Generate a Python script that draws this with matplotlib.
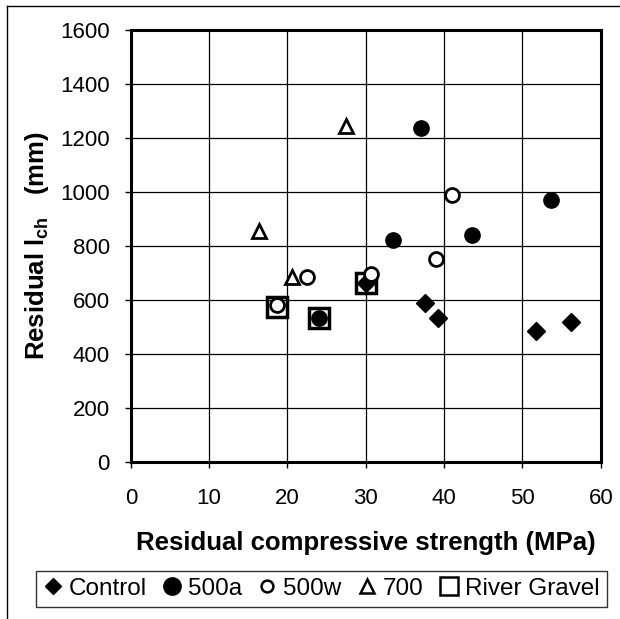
import matplotlib
matplotlib.use("Agg")
import matplotlib.pyplot as plt
from matplotlib.lines import Line2D

plt.rcParams['font.family'] = ['Liberation Sans', 'DejaVu Sans']
plt.rcParams['mathtext.fontset'] = 'custom'
plt.rcParams['mathtext.rm'] = 'Liberation Sans'
plt.rcParams['mathtext.bf'] = 'Liberation Sans:bold'

# data
control_x = [30.0, 37.5, 39.2, 51.7, 56.2]
control_y = [662, 588, 532, 483, 516]

a500_x = [37.1, 33.5, 43.6, 53.7, 24.0]
a500_y = [1236, 822, 840, 968, 532]

w500_x = [41.0, 39.0, 22.5, 30.7, 18.6]
w500_y = [989, 751, 684, 696, 581]

t700_x = [27.5, 16.4, 20.6]
t700_y = [1242, 853, 686]

gravel_x = [18.6, 24.0, 30.0]
gravel_y = [575, 532, 662]

fig = plt.figure(figsize=(6.2, 6.19), dpi=100)
ax = fig.add_axes([0.211, 0.254, 0.758, 0.698])

ax.plot(gravel_x, gravel_y, linestyle='none', marker='s', ms=15, mfc='none',
        mec='black', mew=2.5, zorder=3)
ax.plot(control_x, control_y, linestyle='none', marker='D', ms=9, color='black', zorder=4)
ax.plot(a500_x, a500_y, linestyle='none', marker='o', ms=11, color='black', zorder=4)
ax.plot(w500_x, w500_y, linestyle='none', marker='o', ms=10, mfc='white',
        mec='black', mew=2, zorder=4)
ax.plot(t700_x, t700_y, linestyle='none', marker='^', ms=10, mfc='white',
        mec='black', mew=2, zorder=4)

ax.set_xlim(0, 60)
ax.set_ylim(0, 1600)
ax.set_xticks(range(0, 61, 10))
ax.set_yticks(range(0, 1601, 200))
ax.grid(True, color='black', linewidth=0.9)
ax.set_axisbelow(True)
for sp in ax.spines.values():
    sp.set_linewidth(2.2)
ax.tick_params(direction='out', length=4, width=1, labelsize=16)
ax.tick_params(axis='x', pad=15)
ax.tick_params(axis='y', pad=11)

ax.set_xlabel('Residual compressive strength (MPa)', fontsize=18.5,
              fontweight='bold', labelpad=16)
ax.set_ylabel(r'Residual l$_{\mathbf{ch}}$   (mm)', fontsize=18.5,
              fontweight='bold', labelpad=7)

handles = [
    Line2D([], [], linestyle='none', marker='D', ms=8.5, color='black'),
    Line2D([], [], linestyle='none', marker='o', ms=12.5, color='black'),
    Line2D([], [], linestyle='none', marker='o', ms=8.5, mfc='white', mec='black', mew=1.8),
    Line2D([], [], linestyle='none', marker='^', ms=10, mfc='white', mec='black', mew=1.8),
    Line2D([], [], linestyle='none', marker='s', ms=12.5, mfc='white', mec='black', mew=1.8),
]
labels = ['Control', '500a', '500w', '700', 'River Gravel']
leg = fig.legend(handles, labels, loc='center', bbox_to_anchor=(0.518, 0.0485),
                 ncol=5, fontsize=17.5, frameon=True, fancybox=False,
                 handlelength=0.8, handletextpad=0.25, columnspacing=0.65,
                 borderpad=0.3, borderaxespad=0)
leg.get_frame().set_edgecolor('black')
leg.get_frame().set_linewidth(1)

# outer border of the scanned figure
fig.add_artist(Line2D([0.012, 0.012], [0.0, 0.99], color='black', lw=1))
fig.add_artist(Line2D([0.012, 1.0], [0.99, 0.99], color='black', lw=1))

fig.savefig('out.png', dpi=100)
